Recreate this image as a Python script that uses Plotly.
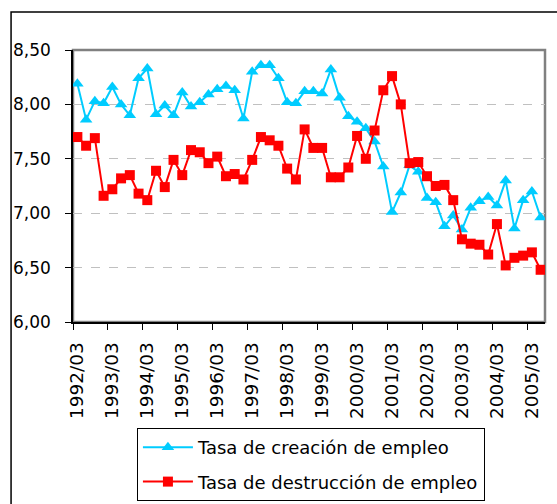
import plotly.graph_objects as go

# quarters 1992/03 .. 2005/06
years = list(range(1992, 2006))
months = ["03", "06", "09", "12"]
quarters = [f"{y}/{m}" for y in years for m in months][:54]

creacion = [8.19, 7.86, 8.03, 8.01, 8.16, 8.00, 7.90, 8.24, 8.33, 7.91,
            7.99, 7.90, 8.11, 7.98, 8.02, 8.09, 8.14, 8.17, 8.13, 7.87,
            8.30, 8.36, 8.36, 8.24, 8.02, 8.01, 8.12, 8.12, 8.10, 8.32,
            8.06, 7.89, 7.84, 7.78, 7.66, 7.43, 7.01, 7.19, 7.44, 7.38,
            7.14, 7.10, 6.88, 6.98, 6.85, 7.05, 7.11, 7.15, 7.07, 7.30,
            6.86, 7.12, 7.20, 6.96]

destruccion = [7.70, 7.62, 7.69, 7.16, 7.22, 7.32, 7.35, 7.18, 7.12, 7.39,
               7.24, 7.49, 7.35, 7.58, 7.56, 7.46, 7.52, 7.34, 7.36, 7.31,
               7.49, 7.70, 7.67, 7.62, 7.41, 7.31, 7.77, 7.60, 7.60, 7.33,
               7.33, 7.42, 7.71, 7.50, 7.76, 8.13, 8.26, 8.00, 7.46, 7.47,
               7.34, 7.25, 7.26, 7.12, 6.76, 6.72, 6.71, 6.62, 6.90, 6.52,
               6.59, 6.61, 6.64, 6.48]

y_ticks = [6.0, 6.5, 7.0, 7.5, 8.0, 8.5]
y_labels = ["6,00", "6,50", "7,00", "7,50", "8,00", "8,50"]

idx = list(range(len(quarters)))
lab_idx = idx[::4]

fig = go.Figure()
fig.add_trace(go.Scatter(x=idx, y=creacion, name="Tasa de creación de empleo",
                         mode="lines+markers", legendgroup="a",
                         line=dict(color="#00CCFF", width=2),
                         marker=dict(symbol="triangle-up", size=11, color="#00CCFF")))
fig.add_trace(go.Scatter(x=idx, y=destruccion, name="Tasa de destrucción de empleo",
                         mode="lines+markers", legendgroup="b",
                         line=dict(color="#FF0000", width=2),
                         marker=dict(symbol="square", size=10, color="#FF0000")))

# outer chart border and plot area frame
fig.add_shape(type="rect", xref="paper", yref="paper",
              x0=(11 - 73) / 472.5, x1=1.05, y0=-0.8, y1=(322 - 12) / 272,
              line=dict(color="black", width=1.5), layer="below")
fig.add_shape(type="rect", xref="paper", yref="paper", x0=0, x1=1, y0=0, y1=1,
              line=dict(color="#808080", width=2.5), layer="below")

fig.update_layout(
    width=557, height=504,
    margin=dict(l=73, r=11.5, t=50, b=182, autoexpand=False),
    paper_bgcolor="white", plot_bgcolor="white",
    font=dict(family="DejaVu Sans", size=18, color="black"),
    legend=dict(x=(137 - 73) / 472.5, y=(322 - 428) / 272, xanchor="left", yanchor="top",
                bordercolor="black", borderwidth=1, bgcolor="white",
                itemwidth=50, tracegroupgap=8, traceorder="grouped",
                font=dict(size=18)),
    showlegend=True,
)
fig.update_xaxes(range=[-0.5, len(quarters) - 0.5], tickmode="array",
                 tickvals=lab_idx, ticktext=[quarters[i] for i in lab_idx],
                 tickangle=-90, ticks="", showgrid=False, zeroline=False,
                 showline=True, linecolor="black", linewidth=1.5,
                 ticklabelstandoff=11, tickfont=dict(size=18.5),
                 minor=dict(tickvals=[i - 0.5 for i in lab_idx], ticks="outside",
                            ticklen=6, tickcolor="black", showgrid=False))
fig.update_yaxes(range=[6, 8.5], tickmode="array", tickvals=y_ticks, ticktext=y_labels,
                 ticks="outside", ticklen=6, tickcolor="black", ticklabelstandoff=11,
                 tickfont=dict(size=17),
                 showgrid=True, gridcolor="#C0C0C0", griddash="dash", gridwidth=1,
                 zeroline=False, showline=True, linecolor="black", linewidth=1.5)

# the page's default body margin would shift the chart by 8px
fig.write_html("out.html", config={"displayModeBar": False},
               post_script="document.body.style.margin='0';")
